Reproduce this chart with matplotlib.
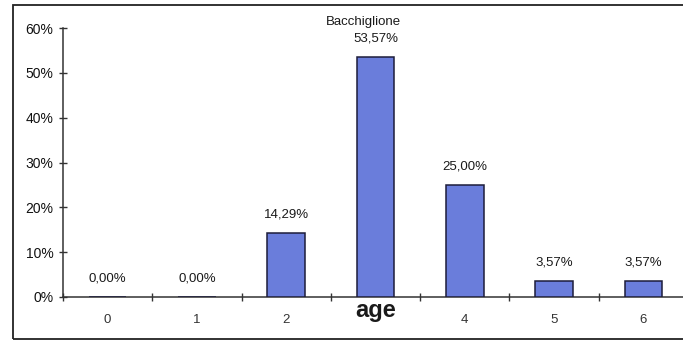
import matplotlib
matplotlib.use("Agg")
import matplotlib.pyplot as plt
from matplotlib.patches import Rectangle

plt.rcParams['font.family'] = ['Liberation Sans', 'DejaVu Sans']

categories = ['0', '1', '2', '3', '4', '5', '6']
shares = [0.0, 0.0, 14.29, 53.57, 25.00, 3.57, 3.57]
value_labels = ['0,00%', '0,00%', '14,29%', '53,57%', '25,00%', '3,57%', '3,57%']
y_ticks = [0, 10, 20, 30, 40, 50, 60]
y_tick_labels = ['0%', '10%', '20%', '30%', '40%', '50%', '60%']
title = 'Bacchiglione'
x_title = 'age'

W, H = 683, 341
fig = plt.figure(figsize=(W / 100, H / 100), dpi=100)

# outer chart frame (right edge runs past the image)
fig.patches.append(Rectangle((13 / W, 2 / H), 1.05, (339 - 5) / H,
                             transform=fig.transFigure, fill=False,
                             edgecolor='#222222', linewidth=1.3))

ax_left, ax_right, ax_bottom, ax_top = 63, 688, 297, 28
ax = fig.add_axes([ax_left / W, (H - ax_bottom) / H,
                   (ax_right - ax_left) / W, (ax_bottom - ax_top) / H])
ax.patch.set_alpha(0)

x = list(range(len(categories)))
ax.bar(x, shares, width=0.42, color='#6a7ddb', edgecolor='#1c1c3a',
       linewidth=1.1, zorder=3)

for xi, v, lab in zip(x, shares, value_labels):
    ax.annotate(lab, (xi, v), xytext=(0, 13), textcoords='offset points',
                ha='center', va='center', fontsize=9.5, color='#1a1a1a')

ax.set_xlim(-0.5, len(categories) - 0.5)
ax.set_ylim(0, 60)

ax.set_yticks(y_ticks)
ax.set_yticklabels(y_tick_labels, fontsize=10, color='#111111')
ax.set_xticks([i - 0.5 for i in range(len(categories) + 1)])
ax.set_xticklabels([])
ax.set_xticks(x, minor=True)
ax.set_xticklabels([c if c != '3' else '' for c in categories], minor=True,
                   fontsize=9.5, color='#333333')
ax.tick_params(axis='x', which='major', direction='inout', length=6,
               width=1, color='#333333')
ax.tick_params(axis='x', which='minor', length=0, pad=12)
ax.tick_params(axis='y', direction='inout', length=6, width=1,
               color='#333333', pad=4)

for s in ['top', 'right']:
    ax.spines[s].set_visible(False)
for s in ['left', 'bottom']:
    ax.spines[s].set_color('#333333')
    ax.spines[s].set_linewidth(1.1)

ax.set_xlabel(x_title, fontsize=17, fontweight='bold', color='#1a1a1a',
              va='center')
ax.xaxis.set_label_coords(0.5, -(310 - ax_bottom) / (ax_bottom - ax_top))

fig.text(363 / W, 1 - 22 / H, title, ha='center', va='center',
         fontsize=9.5, color='#1a1a1a')

fig.savefig('out.png', dpi=100)
